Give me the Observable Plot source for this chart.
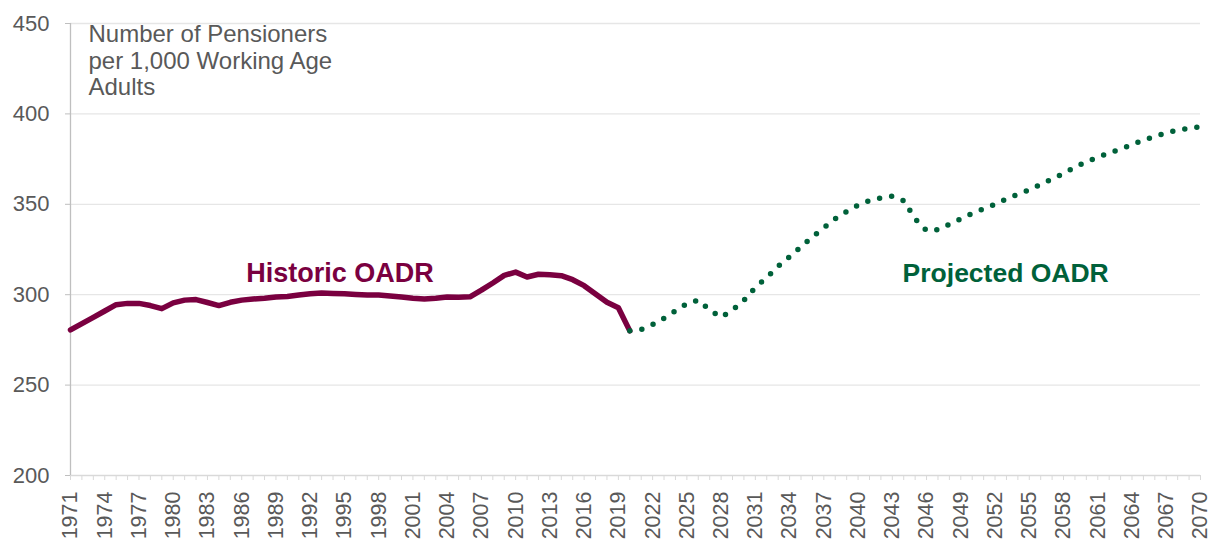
<!DOCTYPE html>
<html><head><meta charset="utf-8">
<script src="https://cdn.jsdelivr.net/npm/d3@7"></script>
<script src="https://cdn.jsdelivr.net/npm/@observablehq/plot@0.6"></script>
<style>body{margin:0;background:#fff;} svg{display:block}</style>
</head><body><div id="chart"></div>
<script>
// Categories
const historicYears = d3.range(1971, 2021);
const projectedYears = d3.range(2020, 2071);
// Series values (pensioners per 1,000 working-age adults)
const historicOADR = [
  280.5, 284, 287.5, 291, 294.5, 295.2, 295.2, 294, 292.3, 295.5,
  297, 297.3, 295.7, 294, 295.8, 297, 297.6, 298, 298.7, 299,
  299.8, 300.5, 301, 300.7, 300.5, 300.1, 299.8, 299.8, 299.3, 298.7,
  298, 297.6, 298, 298.7, 298.6, 298.8, 302.5, 306.5, 310.7, 312.5,
  309.8, 311.3, 311, 310.5, 308.3, 305, 300.4, 295.8, 292.8, 280
];
const projectedOADR = [
  280, 280.8, 283.5, 287, 291, 295, 297, 291.5, 287.5, 291.5,
  296.9, 304, 309.5, 315.7, 321, 326.5, 332, 337, 342, 346,
  349.5, 352, 353.5, 354.5, 352, 342, 335.5, 336, 339, 342,
  345, 347.5, 350, 353, 355.5, 358, 361, 364, 367, 370.5,
  373.5, 376, 378.5, 380.5, 383, 385.5, 387.5, 389.5, 391, 392,
  393
];
// Tick labels
const yTicks = [200, 250, 300, 350, 400, 450];
const gridTicks = [250, 300, 350, 400, 450];
const xLabelYears = d3.range(1971, 2071, 3);
const xMinorYears = d3.range(1971, 2071);
const axisTitle = "Number of Pensioners\nper 1,000 Working Age\nAdults";
const historicLabel = "Historic OADR";
const projectedLabel = "Projected OADR";

const historic = historicYears.map((year, i) => ({year, value: historicOADR[i]}));
const projected = projectedYears.map((year, i) => ({year, value: projectedOADR[i]}));

const chart = Plot.plot({
  width: 1210,
  height: 542,
  marginLeft: 70,
  marginRight: 10,
  marginTop: 23,
  marginBottom: 67,
  style: {fontFamily: "'Liberation Sans', Arial, sans-serif", color: "#595959", background: "#fff", overflow: "visible"},
  x: {domain: [1971, 2070]},
  y: {domain: [200, 450]},
  marks: [
    Plot.gridY(gridTicks, {stroke: "#e6e6e6", strokeOpacity: 1, strokeWidth: 1.3}),
    Plot.ruleY([200], {stroke: "#d9d9d9", strokeWidth: 1.3}),
    Plot.ruleX([1971], {stroke: "#bfbfbf", strokeWidth: 1.3}),
    Plot.axisX(xMinorYears, {tickSize: 5, stroke: "#d9d9d9", strokeOpacity: 1, tickFormat: () => "", label: null}),
    Plot.axisX(xLabelYears, {tickSize: 0, tickPadding: 16, tickRotate: -90, tickFormat: d => String(d), fontSize: 21.5, fill: "#595959", label: null}),
    Plot.axisY(yTicks, {tickSize: 5, tickPadding: 16, tickFormat: d => String(d), fontSize: 22, fill: "#595959", stroke: "#bfbfbf", strokeOpacity: 1, label: null}),
    Plot.text([axisTitle], {frameAnchor: "top-left", dx: 18, dy: 0, lineAnchor: "top", textAnchor: "start", fontSize: 24, lineHeight: 1.1, fill: "#595959"}),
    Plot.line(historic, {x: "year", y: "value", stroke: "#7a0040", strokeWidth: 5.5, strokeLinejoin: "round"}),
    Plot.line(projected, {x: "year", y: "value", stroke: "#00613a", strokeWidth: 5.5, strokeDasharray: "0,12.2", strokeLinecap: "round"}),
    Plot.text([historicLabel], {x: () => 1986.4, y: () => 311.8, textAnchor: "start", fontSize: 27, fontWeight: "bold", fill: "#7a0040"}),
    Plot.text([projectedLabel], {x: () => 2043.9, y: () => 311.5, textAnchor: "start", fontSize: 26.5, fontWeight: "bold", fill: "#00613a"})
  ]
});
document.getElementById("chart").appendChild(chart);
</script>
</body></html>
